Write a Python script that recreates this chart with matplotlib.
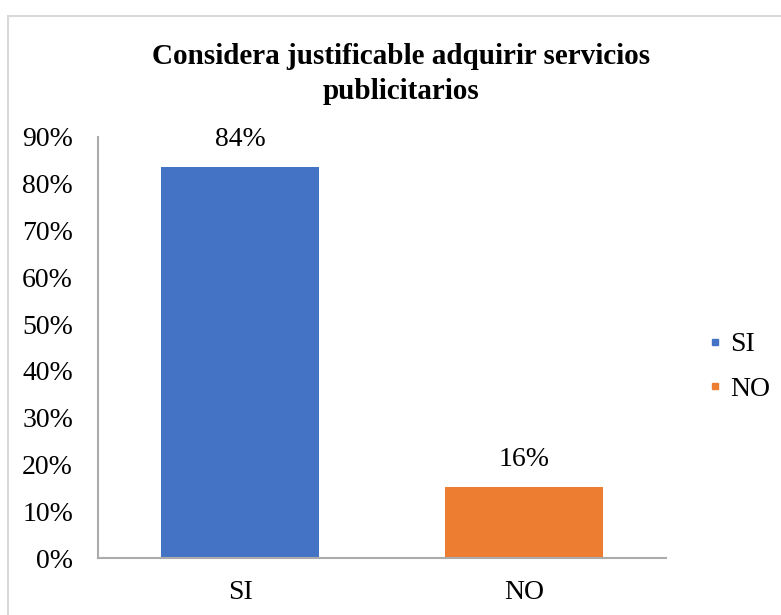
import matplotlib
matplotlib.use("Agg")
import matplotlib.pyplot as plt
from matplotlib.lines import Line2D
from matplotlib.patches import Rectangle
from matplotlib.ticker import PercentFormatter

categories = ["SI", "NO"]
values = [0.836, 0.152]
value_labels = ["84%", "16%"]
colors = ["#4472C4", "#ED7D31"]
yticks = [0, 0.1, 0.2, 0.3, 0.4, 0.5, 0.6, 0.7, 0.8, 0.9]
title = "Considera justificable adquirir servicios\npublicitarios"

plt.rcParams['font.family'] = ['Liberation Serif', 'DejaVu Serif']

W, H = 781, 615
fig = plt.figure(figsize=(W / 100, H / 100), dpi=100)
fig.patch.set_facecolor("white")

# outer chart border
fig.patches.append(Rectangle((8 / W, -0.05), 1.1, 1 - 16 / H + 0.05,
                             transform=fig.transFigure, fill=False,
                             edgecolor="#D9D9D9", linewidth=1.5))

left, right = 98 / W, 666 / W
bottom, top = (H - 558) / H, (H - 137) / H
ax = fig.add_axes([left, bottom, right - left, top - bottom])

x = list(range(len(categories)))
ax.bar(x, values, width=0.553, color=colors, zorder=2)
ax.set_xlim(-0.5, 1.5)
ax.set_ylim(0, 0.9)
ax.set_yticks(yticks)
ax.yaxis.set_major_formatter(PercentFormatter(1.0, decimals=0))
ax.set_xticks(x)
ax.set_xticklabels(categories)
ax.tick_params(axis="both", length=0, labelsize=20, colors="black")
ax.tick_params(axis="y", pad=18)
ax.tick_params(axis="x", pad=16)

for s in ["top", "right"]:
    ax.spines[s].set_visible(False)
for s in ["left", "bottom"]:
    ax.spines[s].set_color("#ABABAB")
    ax.spines[s].set_linewidth(1.5)

for xi, v, lab in zip(x, values, value_labels):
    ax.annotate(lab, (xi, v), xytext=(0, 11),
                textcoords="offset points", ha="center", va="bottom",
                fontsize=20)

fig.text(0.514, 1 - 74 / H, title, ha="center", va="center",
         fontsize=21, fontweight="bold", linespacing=1.35)

handles = [Line2D([], [], marker="s", linestyle="none", color=c,
                  markersize=5) for c in colors]
fig.legend(handles, categories, loc="center left",
           bbox_to_anchor=(694 / W, 1 - 367 / H), frameon=False,
           fontsize=20, handlelength=0.5, handletextpad=0.3,
           labelspacing=0.7, borderpad=0)

fig.savefig("out.png", dpi=100)
